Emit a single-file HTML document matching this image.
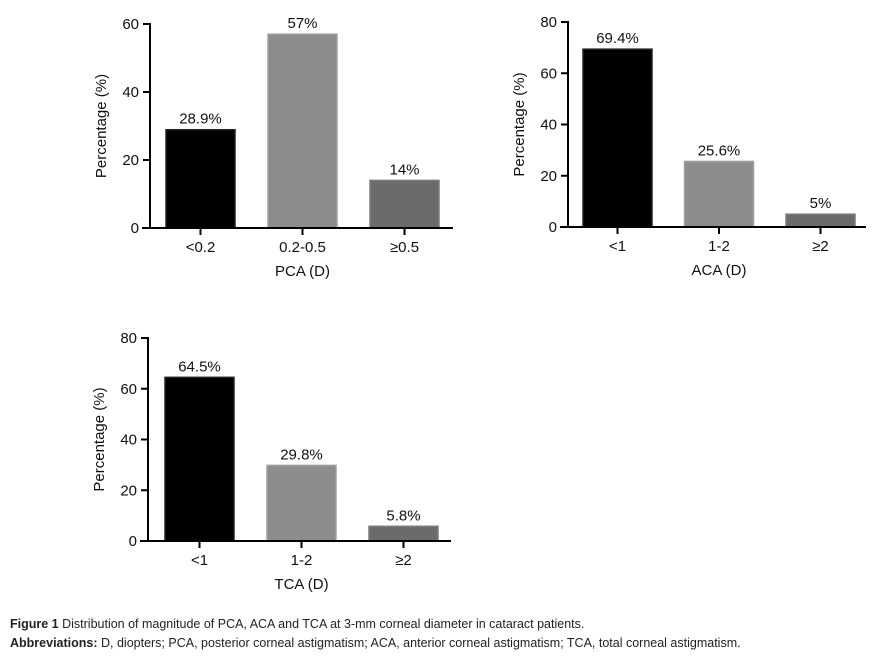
<!DOCTYPE html>
<html><head><meta charset="utf-8"><style>
body{margin:0;background:#fff;width:882px;height:658px;overflow:hidden;font-family:"Liberation Sans",sans-serif}
svg{position:absolute;left:0;top:0}
.cap{position:absolute;left:10px;font-size:12.5px;color:#222;font-family:"Liberation Sans",sans-serif}
</style></head><body>
<svg id="fig" width="882" height="658"></svg>
<div class="cap" style="top:617px"><b>Figure 1</b> Distribution of magnitude of PCA, ACA and TCA at 3-mm corneal diameter in cataract patients.</div>
<div class="cap" style="top:636px"><b>Abbreviations:</b> D, diopters; PCA, posterior corneal astigmatism; ACA, anterior corneal astigmatism; TCA, total corneal astigmatism.</div>
<script>
const pcaCategories=["<0.2","0.2-0.5","≥0.5"];
const pcaValues=[28.9,57,14];
const pcaLabels=["28.9%","57%","14%"];
const pcaTicks=[0,20,40,60];
const acaCategories=["<1","1-2","≥2"];
const acaValues=[69.4,25.6,5];
const acaLabels=["69.4%","25.6%","5%"];
const acaTicks=[0,20,40,60,80];
const tcaCategories=["<1","1-2","≥2"];
const tcaValues=[64.5,29.8,5.8];
const tcaLabels=["64.5%","29.8%","5.8%"];
const tcaTicks=[0,20,40,60,80];

const NS="http://www.w3.org/2000/svg";
const svg=document.getElementById('fig');
const fills=["#000","#8c8c8c","#6b6b6b"];
const strokes=["#222","#a0a0a0","#7c7c7c"];
function mk(tag,attrs,parent,text){const e=document.createElementNS(NS,tag);for(const k in attrs)e.setAttribute(k,attrs[k]);if(text!==undefined)e.textContent=text;parent.appendChild(e);return e;}
function chart(name,ax,y0,yTop,xEnd,cats,vals,labs,ticks,title,firstBarX,step){
  const g=mk('g',{},svg);
  
  
  const maxV=ticks[ticks.length-1];
  const y=v=>y0-(v/maxV)*(y0-yTop);
  const bw=69;
  const xc=i=>firstBarX+i*step+bw/2;
  vals.forEach((v,i)=>{
    const r=mk('rect',{x:xc(i)-bw/2,y:y(v),width:bw,height:y0-y(v),fill:fills[i],stroke:strokes[i],'stroke-width':1.5},g);
    
    
    const t=mk('text',{x:xc(i),y:y(v)-6,'text-anchor':'middle','font-size':15,fill:'#111'},g,labs[i]);
    
    
    mk('line',{x1:xc(i),x2:xc(i),y1:y0,y2:y0+7,stroke:'#000','stroke-width':2},g);
    const c=mk('text',{x:xc(i),y:y0+24,'text-anchor':'middle','font-size':15,fill:'#111'},g,cats[i]);
    
    
  });
  mk('line',{x1:ax,x2:ax,y1:yTop-1,y2:y0+1,stroke:'#000','stroke-width':2},g);
  mk('line',{x1:ax-8,x2:xEnd,y1:y0,y2:y0,stroke:'#000','stroke-width':2},g);
  ticks.forEach(t=>{
    mk('line',{x1:ax-7,x2:ax,y1:y(t),y2:y(t),stroke:'#000','stroke-width':2},g);
    const tl=mk('text',{x:ax-11,y:y(t)+5,'text-anchor':'end','font-size':15,fill:'#111'},g,t);
    
    
  });
  const yt=mk('text',{x:0,y:0,'text-anchor':'middle','font-size':15,fill:'#111',transform:`translate(${ax-44},${(y0+yTop)/2}) rotate(-90)`},g,'Percentage (%)');
  
  
  const xt=mk('text',{x:xc(1),y:y0+48,'text-anchor':'middle','font-size':15,fill:'#111'},g,title);
  
  
}
chart('pca',150,228,24,453,pcaCategories,pcaValues,pcaLabels,pcaTicks,'PCA (D)',166,102);
chart('aca',568,227,22,866,acaCategories,acaValues,acaLabels,acaTicks,'ACA (D)',583,101.5);
chart('tca',148,541,338,451,tcaCategories,tcaValues,tcaLabels,tcaTicks,'TCA (D)',165,102);
</script>
</body></html>
